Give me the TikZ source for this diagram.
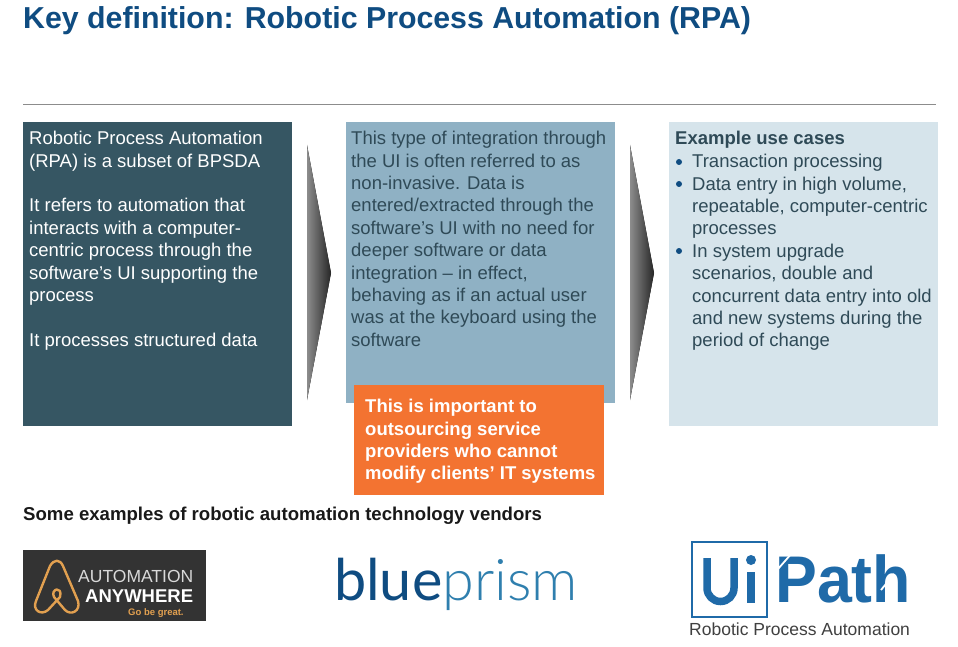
\documentclass[tikz,border=0pt]{standalone}
\usepackage{fontspec}
\setmainfont{Liberation Sans}
\newfontfamily\logofont{Lato}
\newfontfamily\logolight{Lato Light}
\usetikzlibrary{calc}
\definecolor{titleblue}{HTML}{0F4C81}
\definecolor{boxdark}{HTML}{365663}
\definecolor{boxmid}{HTML}{8FB1C4}
\definecolor{boxlight}{HTML}{D6E4EB}
\definecolor{boxorange}{HTML}{F37331}
\definecolor{textdark}{HTML}{2F4A57}
\definecolor{logogrey}{HTML}{333333}
\definecolor{logoblue}{HTML}{1F6AA8}
\definecolor{logoteal}{HTML}{2F7FAE}
\definecolor{logogold}{HTML}{E2A050}
\tikzset{
	bodytext/.style={anchor=north west, inner sep=0pt, align=left, font=\fontsize{18.5}{22.4}\selectfont},
	boldtext/.style={anchor=north west, inner sep=0pt, align=left, font=\fontsize{18.5}{22.4}\selectfont\bfseries},
	chevron/.style={draw=none, left color=black!45, right color=black!85},
	uistroke/.style={draw=logoblue, line width=7.5pt},
}
\begin{document}
\begin{tikzpicture}[x=1pt, y=-1pt]
	\useasboundingbox (0, 0) rectangle (958, 647);
	\fill[white] (0, 0) rectangle (958, 647);

	%%%%% HEADER %%%%%
	\node[anchor=base west, inner sep=0pt, text=titleblue, font=\fontsize{30.3}{34}\selectfont\bfseries] (title) at (23, 29) {Key definition: Robotic Process Automation (RPA)};
	\draw[black!45, line width=0.8pt] (23, 104) -- (936, 104);

	%%%%% BOXES %%%%%
	\fill[boxdark] (23, 122) rectangle (292, 426);
	\fill[boxmid] (346, 122) rectangle (615, 403);
	\fill[boxlight] (669, 122) rectangle (938, 426);
	\fill[boxorange] (354, 385) rectangle (604, 495);

	\node[bodytext, text=white] (lefttext) at (29, 131) {Robotic Process Automation\\(RPA) is a subset of BPSDA\\[22.4pt]It refers to automation that\\interacts with a computer-\\centric process through the\\software’s UI supporting the\\process\\[22.4pt]It processes structured data};
	\node[bodytext, text=textdark] (midtext) at (351, 131) {This type of integration through\\the UI is often referred to as\\non-invasive. Data is\\entered/extracted through the\\software’s UI with no need for\\deeper software or data\\integration -- in effect,\\behaving as if an actual user\\was at the keyboard using the\\software};
	\node[boldtext, text=white] (orangetext) at (365, 399) {This is important to\\outsourcing service\\providers who cannot\\modify clients’ IT systems};

	\node[boldtext, text=textdark] (usehead) at (675, 131) {Example use cases};
	\node[bodytext, text=textdark] (righttext) at (692, 154) {Transaction processing\\Data entry in high volume,\\repeatable, computer-centric\\processes\\In system upgrade\\scenarios, double and\\concurrent data entry into old\\and new systems during the\\period of change};
	\fill[titleblue] (679, 162) circle (3);
	\fill[titleblue] (679, 184) circle (3);
	\fill[titleblue] (679, 251) circle (3);

	%%%%% ARROWS %%%%%
	\fill[chevron] (307, 145) -- (331, 273) -- (307, 400) -- cycle;
	\fill[chevron] (630, 145) -- (654, 273) -- (630, 400) -- cycle;

	%%%%% VENDORS %%%%%
	\node[anchor=base west, inner sep=0pt, text=black!90, font=\fontsize{18.6}{22}\selectfont\bfseries] (vendors) at (23, 520) {Some examples of robotic automation technology vendors};

	\fill[logogrey] (23, 550) rectangle (206, 621);
	\draw[logogold, line width=2.4pt, line join=round] (50, 566) .. controls (54, 559) and (60, 559) .. (63, 566) -- (78, 601) .. controls (81, 611) and (71, 616) .. (65, 610) -- (54, 597) .. controls (50, 589) and (63, 585) .. (60, 597) -- (48, 610) .. controls (41, 616) and (32, 610) .. (36, 601) -- cycle;
	\node[anchor=base west, inner sep=0pt, text=white!85!black, font=\fontsize{17.5}{20}\selectfont] (autoname) at (78, 582) {AUTOMATION};
	\node[anchor=base west, inner sep=0pt, text=white, font=\fontsize{18.5}{20}\selectfont\bfseries] (anyname) at (85, 602) {ANYWHERE};
	\node[anchor=base west, inner sep=0pt, text=logogold, font=\fontsize{9.5}{10}\selectfont\bfseries] (goname) at (128, 615) {Go be great.};

	\node[anchor=base west, inner sep=0pt, font=\fontsize{57.5}{60}\selectfont] (blueprism) at (334, 600) {\textcolor{titleblue}{\logofont blue}\textcolor{logoteal}{\logolight prism}};

	\draw[logoblue, line width=2.2pt] (692, 542) rectangle (767, 617);
	\draw[uistroke] (707, 558) -- (707, 588) arc (180:0:13.5) -- (734, 558);
	\draw[uistroke] (751, 572) -- (751, 603);
	\fill[logoblue] (751, 560) circle (5);
	\node[anchor=base west, inner sep=0pt, text=logoblue, xscale=0.95, font=\fontsize{66}{70}\selectfont\bfseries] (pathname) at (775, 602) {Path};
	\draw[white, line width=1.8pt] (778, 569) -- (792, 553);
	\draw[white, line width=1.8pt] (881, 590) -- (894, 574);
	\node[anchor=base west, inner sep=0pt, text=black!75, font=\fontsize{17.5}{20}\selectfont] (uitag) at (689, 635) {Robotic Process Automation};
\end{tikzpicture}
\end{document}
